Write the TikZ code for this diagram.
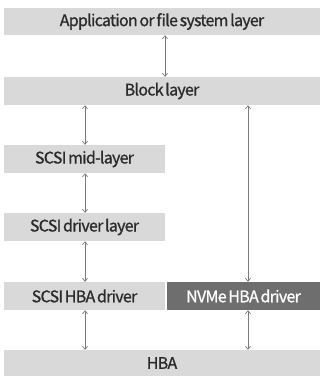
\documentclass[tikz,border=0pt]{standalone}
\usepackage{fontspec}
\setmainfont{Noto Sans CJK KR}[FakeBold=1.0, LetterSpace=-4.5, WordSpace=0.6]
\usetikzlibrary{arrows.meta}
\definecolor{layerfill}{HTML}{D9D9D9}
\definecolor{nvmefill}{HTML}{6E6E6E}
\definecolor{labeltext}{HTML}{2B2B2B}
\definecolor{linkgray}{HTML}{7A7A7A}
\tikzset{
  layer/.style={fill=layerfill, text=labeltext, inner sep=0pt, font=\fontsize{16}{19}\selectfont},
  darklayer/.style={layer, fill=nvmefill, text=white},
  link/.style={draw=linkgray, line width=0.7pt, {Straight Barb[length=3pt,width=5pt]}-{Straight Barb[length=3pt,width=5pt]}},
}
\begin{document}
\begin{tikzpicture}[x=1pt,y=-1pt]
\useasboundingbox (0,0) rectangle (323,376);
% full-width layers
\node[layer, minimum width=316pt, minimum height=27pt] (app) at (162,21.5) {Application or file system layer};
\node[layer, minimum width=316pt, minimum height=28pt] (block) at (162,91) {Block layer};
\node[layer, minimum width=316pt, minimum height=26pt] (hba) at (162,363) {HBA};
% SCSI stack
\node[layer, minimum width=161pt, minimum height=28pt] (mid) at (84.5,159) {SCSI mid-layer};
\node[layer, minimum width=161pt, minimum height=28pt] (drv) at (84.5,227) {SCSI driver layer};
\node[layer, minimum width=161pt, minimum height=28pt] (scsihba) at (84.5,296) {SCSI HBA driver};
% NVMe path
\node[darklayer, minimum width=153pt, minimum height=28pt] (nvme) at (243.5,296) {NVMe HBA driver};
% connectors
\draw[link] (app.south -| 165,0) -- (block.north -| 165,0);
\draw[link] (block.south -| 85,0) -- (mid.north -| 85,0);
\draw[link] (mid.south -| 85,0) -- (drv.north -| 85,0);
\draw[link] (drv.south -| 85,0) -- (scsihba.north -| 85,0);
\draw[link] (scsihba.south -| 85,0) -- (hba.north -| 85,0);
\draw[link] (block.south -| 248,0) -- (nvme.north -| 248,0);
\draw[link] (nvme.south -| 248,0) -- (hba.north -| 248,0);
\end{tikzpicture}
\end{document}
